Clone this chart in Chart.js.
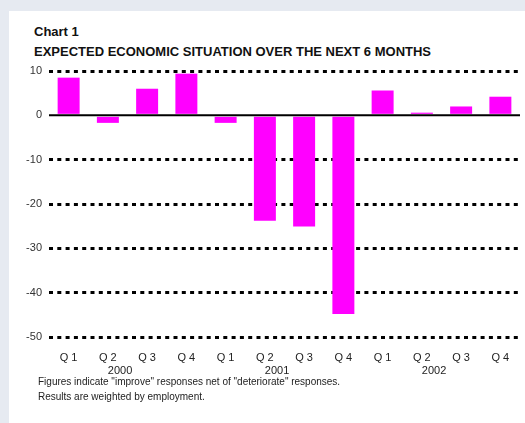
<!DOCTYPE html>
<html lang="en">
<head>
    <meta charset="UTF-8">
    <title>Chart 1</title>
    <script src="https://cdn.jsdelivr.net/npm/chart.js"></script>
    <style>
        body { margin: 0; background: #e6eaf1; font-family: 'Liberation Sans', Arial, sans-serif; }
        .panel { position: absolute; left: 9px; top: 11px; width: 516px; height: 412px; background: #fff; }
        .chart-wrap { position: absolute; left: 0; top: 0; width: 525px; height: 423px; }
        .title { position: absolute; left: 34px; font-weight: bold; font-size: 13px; color: #111; letter-spacing: 0; }
        .note { position: absolute; left: 38px; font-size: 10px; color: #222; }
    </style>
</head>
<body>
    <div class="panel"></div>
    <div class="title" style="top: 24px;">Chart 1</div>
    <div class="title" style="top: 44px;">EXPECTED ECONOMIC SITUATION OVER THE NEXT 6 MONTHS</div>
    <div class="chart-wrap"><canvas id="chart1" width="525" height="423"></canvas></div>
    <div class="note" style="top: 376px;">Figures indicate "improve" responses net of "deteriorate" responses.</div>
    <div class="note" style="top: 391px;">Results are weighted by employment.</div>
    <script>
        // year sits a little to the right of the Q2 label, as in the original
        const quarters = [
            ['Q 1'], ['Q 2', '        2000'], ['Q 3'], ['Q 4'],
            ['Q 1'], ['Q 2', '        2001'], ['Q 3'], ['Q 4'],
            ['Q 1'], ['Q 2', '        2002'], ['Q 3'], ['Q 4']
        ];
        const netBalance = [8.5, -1.7, 6.0, 9.4, -1.7, -23.8, -25.1, -44.8, 5.6, 0.6, 2.0, 4.2];
        const yTicks = [10, 0, -10, -20, -30, -40, -50];

        // solid line at zero, drawn over the bars
        const zeroLine = {
            id: 'zeroLine',
            afterDatasetsDraw(chart) {
                const y = chart.scales.y.getPixelForValue(0);
                const ctx = chart.ctx;
                ctx.save();
                ctx.strokeStyle = '#000';
                ctx.lineWidth = 2;
                ctx.beginPath();
                ctx.moveTo(chart.chartArea.left, y);
                ctx.lineTo(chart.chartArea.right, y);
                ctx.stroke();
                ctx.restore();
            }
        };

        new Chart(document.getElementById('chart1'), {
            type: 'bar',
            data: {
                labels: quarters,
                datasets: [{
                    data: netBalance,
                    backgroundColor: '#ff00ff',
                    barPercentage: 0.56,
                    categoryPercentage: 1
                }]
            },
            options: {
                responsive: false,
                animation: false,
                layout: { padding: { top: 71, right: 5, bottom: 46, left: 0 } },
                plugins: { legend: { display: false }, tooltip: { enabled: false } },
                scales: {
                    x: {
                        grid: { display: false },
                        border: { display: false },
                        ticks: {
                            color: '#222',
                            font: { family: 'Liberation Sans', size: 11 },
                            padding: 6,
                            maxRotation: 0,
                            autoSkip: false
                        },
                        afterFit(scale) { scale.height = 40; }
                    },
                    y: {
                        min: -50,
                        max: 10,
                        afterBuildTicks(scale) { scale.ticks = yTicks.map(v => ({ value: v })); },
                        grid: {
                            drawTicks: false,
                            lineWidth: 3,
                            color: c => c.tick.value === 0 ? 'rgba(0,0,0,0)' : '#000'
                        },
                        border: { display: false, dash: [4, 4.3] },
                        ticks: {
                            color: '#333',
                            font: { family: 'Liberation Sans', size: 11 },
                            padding: 7
                        },
                        afterFit(scale) { scale.width = 49; }
                    }
                }
            },
            plugins: [zeroLine]
        });
    </script>
</body>
</html>
